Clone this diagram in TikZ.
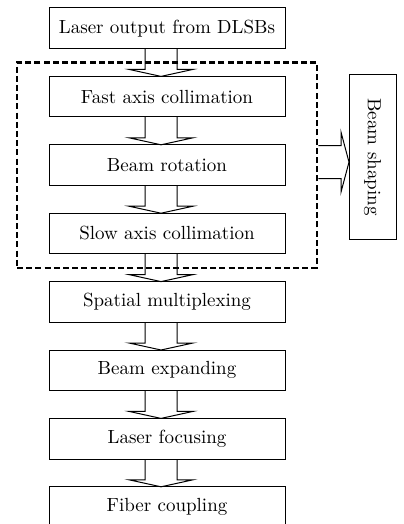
\documentclass[tikz,border=0pt]{standalone}
\usepackage{tikz}
\usetikzlibrary{calc}
\usetikzlibrary{fit}
\usetikzlibrary{positioning}

\begin{document}
\begin{tikzpicture}[node distance=13.9pt,
	  step box/.style={rectangle,draw,line width=0.5pt,minimum width=118pt,minimum height=20.3pt,
	    inner sep=0pt,outer sep=0pt,font=\fontsize{9.5}{11}\selectfont},
	  block arrow/.style={draw,line width=0.5pt,line join=miter}]

	  \useasboundingbox (0,0) rectangle (201.5pt,-262pt);

	  \node[step box] (laser) at (83.5pt,-14.15pt) {Laser output from DLSBs};
	  \node[step box, below=of laser] (fast) {Fast axis collimation};
	  \node[step box, below=of fast] (rot) {Beam rotation};
	  \node[step box, below=of rot] (slow) {Slow axis collimation};
	  \node[step box, below=of slow] (mux) {Spatial multiplexing};
	  \node[step box, below=of mux] (expand) {Beam expanding};
	  \node[step box, below=of expand] (focus) {Laser focusing};
	  \node[step box, below=of focus] (fiber) {Fiber coupling};

	  % beam shaping group
	  \node[draw,dashed,line width=1.3pt,dash pattern=on 3pt off 1.6pt,
	    fit=(fast)(slow),inner xsep=16pt,inner ysep=7pt] (frame) {};
	  \node[step box, rotate=-90, minimum width=82pt, minimum height=23.5pt]
	    (shaping) at (186.25pt,-78.5pt) {Beam shaping};

	  % hollow arrows between the steps
	  \foreach \a/\b in {laser/fast,fast/rot,rot/slow,slow/mux,mux/expand,expand/focus,focus/fiber}
	    \draw[block arrow] ($(\a.south)+(-11pt,0)$) -- ($(\b.north)+(-11pt,3.5pt)$)
	      -- ($(\b.north)+(-19pt,3.5pt)$) -- ($(\b.north)+(-3pt,0)$)
	      -- ($(\b.north)+(13pt,3.5pt)$) -- ($(\b.north)+(5pt,3.5pt)$)
	      -- ($(\a.south)+(5pt,0)$);

	  \coordinate (out) at ($(frame.east)+(0,1.5pt)$);
	  \coordinate (in) at (shaping.south |- out);
	  \draw[block arrow] ($(out)+(0,8.2pt)$) -- ($(in)+(-4pt,8.2pt)$)
	    -- ($(in)+(-4pt,15pt)$) -- (in)
	    -- ($(in)+(-4pt,-15pt)$) -- ($(in)+(-4pt,-8.2pt)$)
	    -- ($(out)+(0,-8.2pt)$);
	\end{tikzpicture}
\end{document}
